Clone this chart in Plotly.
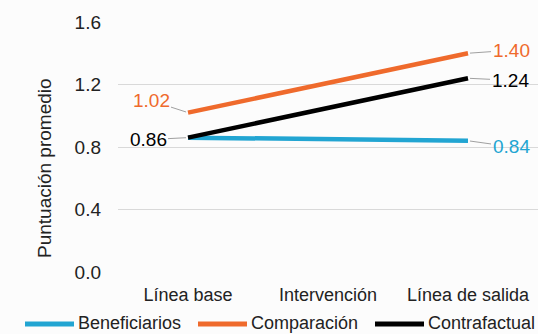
import plotly.graph_objects as go

# Periods on the x axis
periodos = ["Línea base", "Intervención", "Línea de salida"]

# Average score per group (no measurement at the intervention stage)
x_medidos = ["Línea base", "Línea de salida"]
beneficiarios = [0.86, 0.84]
comparacion = [1.02, 1.40]
contrafactual = [0.86, 1.24]

nombres = ["Beneficiarios", "Comparación", "Contrafactual"]
colores = ["#22a5d2", "#ef6a2c", "#000000"]
series = [beneficiarios, comparacion, contrafactual]

y_ticks = [0.0, 0.4, 0.8, 1.2, 1.6]

FONT = "Liberation Sans"
TXT = "#222222"

# Plot-area geometry in pixels (used to place the hand-made legend)
W, H = 538, 334
ML, MR, MT, MB = 118, 0, 22, 62
PW, PH = W - ML - MR, H - MT - MB


def px_to_paper(px, py):
    return (px - ML) / PW, (H - MB - py) / PH


fig = go.Figure()
# Empty trace so the middle period keeps its slot on the category axis
fig.add_trace(go.Scatter(x=periodos, y=[None] * 3, mode="lines",
                         showlegend=False, hoverinfo="skip"))
for nombre, color, valores in zip(nombres, colores, series):
    fig.add_trace(go.Scatter(
        x=x_medidos, y=valores, mode="lines", name=nombre,
        line=dict(color=color, width=4.5), showlegend=False,
    ))

# Value labels with grey leader lines
etiquetas = [
    # (x, y, text, color, ax, ay)
    (x_medidos[0], comparacion[0], f"{comparacion[0]:.2f}", colores[1], -37, -12),
    (x_medidos[0], contrafactual[0], f"{contrafactual[0]:.2f}", colores[2], -40, 2),
    (x_medidos[1], comparacion[1], f"{comparacion[1]:.2f}", colores[1], 43, -3),
    (x_medidos[1], contrafactual[1], f"{contrafactual[1]:.2f}", colores[2], 42, 2),
    (x_medidos[1], beneficiarios[1], f"{beneficiarios[1]:.2f}", colores[0], 43, 6),
]
for x, y, txt, color, ax, ay in etiquetas:
    fig.add_annotation(
        x=x, y=y, text=txt, showarrow=True, arrowhead=0, arrowwidth=1,
        arrowcolor="#a0a0a0", ax=ax, ay=ay, standoff=2,
        font=dict(family=FONT, size=19, color=color),
    )

# Axis title
tx, ty = px_to_paper(44, 168)
fig.add_annotation(
    xref="paper", yref="paper", x=tx, y=ty, text="Puntuación promedio",
    textangle=-90, showarrow=False, xanchor="center", yanchor="middle",
    font=dict(family=FONT, size=19, color=TXT),
)

# Legend row: line swatch followed by the series name
leyenda_x = [25, 198, 375]
leyenda_y = 323
for nombre, color, lx in zip(nombres, colores, leyenda_x):
    x0, y0 = px_to_paper(lx, leyenda_y + 1)
    x1, _ = px_to_paper(lx + 49, leyenda_y)
    fig.add_shape(type="line", xref="paper", yref="paper",
                  x0=x0, x1=x1, y0=y0, y1=y0,
                  line=dict(color=color, width=5))
    xt, yt = px_to_paper(lx + 51, leyenda_y)
    fig.add_annotation(xref="paper", yref="paper", x=xt, y=yt, text=nombre,
                       showarrow=False, xanchor="left", yanchor="middle",
                       font=dict(family=FONT, size=18, color=TXT))

fig.update_layout(
    width=W, height=H,
    margin=dict(l=ML, r=MR, t=MT, b=MB),
    paper_bgcolor="#fcfcfc", plot_bgcolor="#fcfcfc",
    font=dict(family=FONT, size=19, color=TXT),
    showlegend=False,
    xaxis=dict(
        categoryorder="array", categoryarray=periodos, type="category",
        range=[-0.5, 2.5], showgrid=False, zeroline=False, showline=False,
        ticks="", ticklabelstandoff=10,
        tickfont=dict(family=FONT, size=18, color=TXT),
    ),
    yaxis=dict(
        range=[0, 1.6], tickvals=y_ticks, ticktext=[f"{v:.1f}" for v in y_ticks],
        showgrid=True, gridcolor="#d9d9d9", gridwidth=1, zeroline=False,
        showline=False, ticks="", ticklabelstandoff=16,
        tickfont=dict(family=FONT, size=19, color=TXT),
    ),
)

fig.write_html("out.html")
